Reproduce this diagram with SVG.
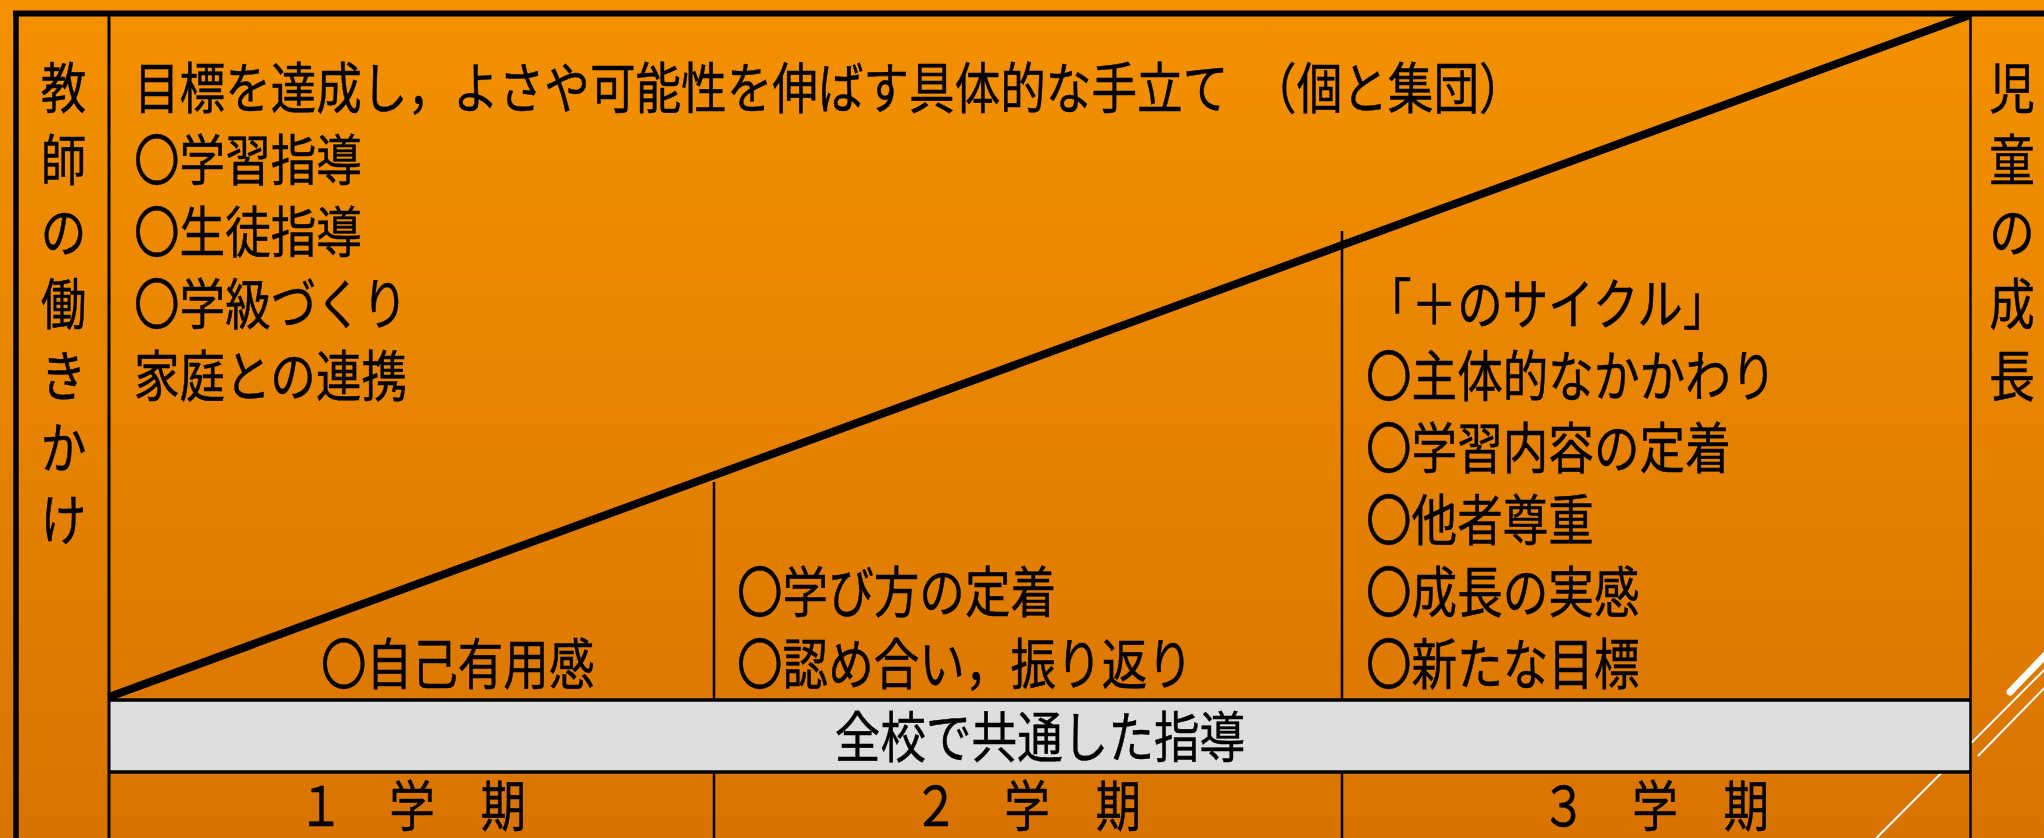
<svg xmlns="http://www.w3.org/2000/svg" width="2044" height="838" viewBox="0 0 2044 838">
<defs>
<linearGradient id="bg" x1="0" y1="0" x2="0" y2="1">
<stop offset="0" stop-color="#F39100"/>
<stop offset="0.5" stop-color="#E78300"/>
<stop offset="1" stop-color="#D87300"/>
</linearGradient>
</defs>
<style>
.t{font-family:"Noto Sans CJK JP","Noto Sans CJK SC",sans-serif;font-size:45.6px;fill:#000;stroke:#000;stroke-width:0.4px}
.m{text-anchor:middle}
.ln{stroke:#000;fill:none}
.thin{stroke-width:2.5}
.deco{stroke:#fff;fill:none}
</style>
<rect x="0" y="0" width="2044" height="838" fill="url(#bg)"/>
<g id="decoration">
<line class="deco" x1="2060" y1="640" x2="2010" y2="692" stroke-width="7" stroke-linecap="round"/>
<line class="deco" x1="2060" y1="654" x2="1876" y2="838.5" stroke-width="2"/>
<line class="deco" x1="2060" y1="672" x2="1978" y2="756" stroke-width="2"/>
</g>
<g id="band">
<rect x="109" y="700" width="1861" height="72" fill="#DEDEDE"/>
<text class="t m" transform="translate(1040,757) scale(1,1.2)">全校で共通した指導</text>
</g>
<g id="connectors">
<line class="ln" x1="13" y1="13.5" x2="2044" y2="13.5" stroke-width="6"/>
<line class="ln" x1="16" y1="11" x2="16" y2="838" stroke-width="5.5"/>
<line class="ln" x1="109" y1="13" x2="109" y2="838" stroke-width="3"/>
<line class="ln" x1="1970.5" y1="13" x2="1970.5" y2="838" stroke-width="2.5"/>
<line class="ln" x1="109" y1="697" x2="1970" y2="15" stroke-width="8"/>
<line class="ln thin" x1="714" y1="482" x2="714" y2="700"/>
<line class="ln thin" x1="1342" y1="231" x2="1342" y2="700"/>
<line class="ln thin" x1="714" y1="772" x2="714" y2="838"/>
<line class="ln thin" x1="1342" y1="772" x2="1342" y2="838"/>
<line class="ln" x1="109" y1="700" x2="1970" y2="700" stroke-width="3.5"/>
<line class="ln" x1="109" y1="772" x2="1970" y2="772" stroke-width="3.5"/>
</g>
<g id="teacher-label">
<text class="t m" transform="translate(63.5,108) scale(1,1.2)"><tspan x="0" y="0">教</tspan><tspan x="0" dy="60">師</tspan><tspan x="0" dy="60">の</tspan><tspan x="0" dy="60">働</tspan><tspan x="0" dy="60">き</tspan><tspan x="0" dy="60">か</tspan><tspan x="0" dy="60">け</tspan></text>
</g>
<g id="teacher-actions">
<text class="t" transform="translate(134,108) scale(1,1.2)"><tspan x="0" y="0">目標を達成し，よさや可能性を伸ばす具体的な手立て　（個と集団）</tspan><tspan x="0" dy="60">〇学習指導</tspan><tspan x="0" dy="60">〇生徒指導</tspan><tspan x="0" dy="60">〇学級づくり</tspan><tspan x="0" dy="60">家庭との連携</tspan></text>
</g>
<g id="term1-growth">
<text class="t" transform="translate(321,684) scale(1,1.2)">〇自己有用感</text>
</g>
<g id="term2-growth">
<text class="t" transform="translate(737,612) scale(1,1.2)"><tspan x="0" y="0">〇学び方の定着</tspan><tspan x="0" dy="60">〇認め合い，振り返り</tspan></text>
</g>
<g id="term3-growth">
<text class="t" transform="translate(1366,324) scale(1,1.2)"><tspan x="0" y="0">「＋のサイクル」</tspan><tspan x="0" dy="60">〇主体的なかかわり</tspan><tspan x="0" dy="60">〇学習内容の定着</tspan><tspan x="0" dy="60">〇他者尊重</tspan><tspan x="0" dy="60">〇成長の実感</tspan><tspan x="0" dy="60">〇新たな目標</tspan></text>
</g>
<g id="child-label">
<text class="t m" transform="translate(2012,108) scale(1,1.2)"><tspan x="0" y="0">児</tspan><tspan x="0" dy="60">童</tspan><tspan x="0" dy="60">の</tspan><tspan x="0" dy="60">成</tspan><tspan x="0" dy="60">長</tspan></text>
</g>
<g id="term1">
<text class="t m" transform="translate(412,826) scale(1,1.2)">１　学　期</text>
</g>
<g id="term2">
<text class="t m" transform="translate(1027,826) scale(1,1.2)">２　学　期</text>
</g>
<g id="term3">
<text class="t m" transform="translate(1655,826) scale(1,1.2)">３　学　期</text>
</g>
</svg>
